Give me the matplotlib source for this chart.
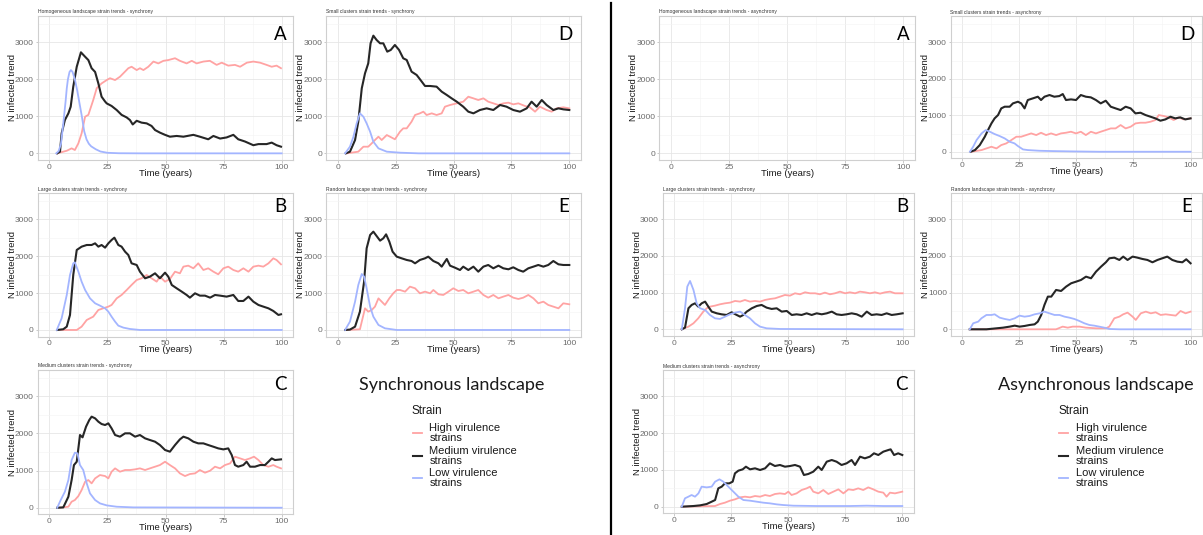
import matplotlib.pyplot as plt
from matplotlib.lines import Line2D

# (year, N infected); hi / med / lo virulence strains

# --- synchrony ---
sync_a_hi = [(3.4, 0), (7.5, 70), (9.6, 135), (11, 90), (12.5, 270), (13.9, 540), (15.4, 990), (16.8, 1040),
             (18.9, 1440), (20.4, 1760), (22.5, 1890), (24.7, 1980), (26.1, 2030), (28.3, 1980), (30.4, 2070),
             (32.6, 2210), (34, 2300), (35.4, 2340), (37.6, 2250), (39, 2300), (40.5, 2250), (42.6, 2340),
             (44.8, 2480), (46.9, 2430), (49.1, 2500), (51.2, 2520), (54.1, 2570), (56.2, 2500), (59.1, 2430),
             (61.3, 2500), (63.4, 2430), (66.3, 2480), (69.1, 2500), (72, 2390), (74.2, 2450), (77, 2370),
             (79.9, 2390), (82.1, 2340), (85, 2450), (87.8, 2480), (90.7, 2450), (93.5, 2390), (95.7, 2340),
             (97.8, 2370), (99.7, 2300)]
sync_a_med = [(3.4, 0), (4.6, 45), (5.3, 540), (6.7, 900), (8.2, 1080), (9.2, 1260), (10.3, 1800), (11.8, 2340),
              (13.6, 2730), (15.4, 2610), (16.8, 2520), (18.2, 2300), (19.7, 2200), (21.1, 1890), (22.5, 1530),
              (24, 1400), (24.7, 1350), (26.8, 1280), (29, 1170), (31.1, 1040), (33.3, 970), (34.7, 900),
              (35.9, 780), (37.6, 880), (39.7, 830), (41.9, 810), (44, 740), (45.5, 630), (47.6, 560),
              (49.8, 500), (51.9, 450), (54.8, 470), (57.7, 450), (62, 500), (64.8, 450), (68.4, 380),
              (70.6, 470), (73.5, 400), (76.3, 430), (79.2, 500), (81.3, 380), (84.2, 320), (87.8, 220),
              (90, 250), (93.5, 250), (95.7, 290), (97.8, 220), (99.7, 180)]
sync_a_lo = [(3, 0), (4, 60), (5, 250), (6, 800), (7, 1400), (7.5, 1750), (8, 2000), (8.7, 2200), (9.3, 2250),
             (10, 2200), (11, 2000), (12, 1700), (13, 1350), (14, 1000), (15, 600), (16, 380), (17, 260),
             (18, 190), (20, 110), (22, 50), (25, 15), (30, 3), (40, 0), (100, 0)]

sync_d_hi = [(3.9, 0), (8.9, 45), (11.1, 180), (13.2, 180), (14.7, 270), (16.1, 360), (17.6, 450), (19, 360),
             (21.2, 495), (22.6, 450), (24.7, 380), (26.9, 585), (28.3, 675), (29.8, 675), (31.9, 856),
             (33.4, 1036), (35.5, 1081), (37, 1126), (38.4, 1036), (40.6, 1081), (42.7, 1036), (44.9, 1081),
             (46.3, 1261), (48.5, 1306), (51.4, 1351), (54.2, 1396), (56.4, 1531), (58.6, 1486), (60.7, 1441),
             (62.9, 1486), (65, 1396), (67.2, 1351), (69.4, 1306), (71.5, 1351), (73.7, 1369), (75.8, 1324),
             (78, 1351), (80.9, 1279), (83, 1243), (85.2, 1126), (87.3, 1261), (90.2, 1171), (92.4, 1126),
             (94.5, 1216), (97.4, 1243), (100, 1216)]
sync_d_med = [(3.5, 0), (5.3, 45), (7.5, 360), (8.9, 856), (10.4, 1757), (11.8, 2162), (13.2, 2432), (14.2, 2973),
              (15.4, 3180), (16.8, 3063), (18.3, 2973), (19.7, 2973), (21.4, 2748), (22.9, 2793), (24.7, 2928),
              (26.5, 2793), (28.3, 2568), (29.8, 2522), (31.9, 2207), (34.1, 2117), (36.3, 1937), (37.7, 1820),
              (39.9, 1820), (42.7, 1802), (44.9, 1667), (47.1, 1577), (49.2, 1486), (51.4, 1396), (54.2, 1261),
              (56.4, 1126), (58.6, 1081), (61.4, 1171), (64.3, 1216), (67.2, 1171), (70.1, 1306), (72.9, 1261),
              (75.8, 1171), (78.7, 1126), (81.6, 1216), (83.7, 1396), (85.9, 1261), (88.1, 1441), (90.2, 1306),
              (93.1, 1171), (95.3, 1216), (97.4, 1189), (100, 1171)]
sync_d_lo = [(3.2, 0), (5.3, 180), (6.8, 450), (8.2, 810), (9.6, 1081), (11.1, 990), (12.5, 810), (14, 585),
             (15.4, 315), (17.6, 135), (21.2, 45), (26.9, 18), (35, 0), (100, 0)]

sync_b_hi = [(4.6, 0), (11.8, 0), (13.9, 90), (16.1, 271), (18.9, 361), (21.1, 542), (23.2, 587), (25.4, 633),
             (26.8, 678), (29, 858), (31.1, 949), (33.3, 1084), (35.4, 1220), (37.6, 1355), (39.7, 1401),
             (41.9, 1491), (44, 1401), (46.2, 1310), (47.6, 1446), (49.8, 1310), (51.9, 1382), (54.1, 1581),
             (56.2, 1536), (57.7, 1717), (59.8, 1744), (62, 1672), (64.1, 1807), (66.3, 1626), (68.4, 1672),
             (70.6, 1581), (72.7, 1509), (74.9, 1672), (77, 1717), (79.2, 1626), (81.3, 1581), (83.5, 1672),
             (85.7, 1581), (87.8, 1717), (90, 1744), (92.1, 1717), (94.3, 1807), (96.4, 1943), (97.8, 1897),
             (99.7, 1780)]
sync_b_med = [(3.4, 0), (6, 20), (7.5, 90), (8.9, 407), (10.3, 1491), (11.8, 2169), (13.9, 2259), (16.1, 2304),
              (18.2, 2304), (19.7, 2349), (21.1, 2259), (22.5, 2304), (24, 2232), (25.4, 2349), (26.8, 2440),
              (28, 2503), (29.7, 2304), (31.1, 2259), (32.6, 2123), (34, 2033), (35.4, 1807), (37.6, 1762),
              (39, 1581), (41.2, 1401), (43.3, 1446), (45.5, 1536), (47.6, 1401), (49.8, 1554), (51.2, 1446),
              (52.7, 1220), (54.8, 1130), (57, 1039), (59.1, 949), (60.5, 876), (62.7, 994), (64.8, 931),
              (67, 931), (69.2, 876), (71.3, 949), (73.5, 931), (76.3, 904), (79.2, 949), (81.3, 786),
              (83.5, 786), (85.7, 904), (87.8, 768), (90, 678), (92.1, 633), (94.3, 587), (96.4, 515),
              (98.6, 407), (99.7, 425)]
sync_b_lo = [(3.2, 0), (5.3, 316), (7.5, 949), (8.9, 1491), (10.3, 1807), (11, 1834), (12.5, 1581), (13.9, 1310),
             (15.4, 1084), (17.5, 858), (19.7, 723), (21.8, 660), (24, 587), (25.4, 497), (26.8, 361),
             (28.3, 226), (29.7, 117), (31.9, 63), (34.7, 27), (39, 0), (100, 0)]

sync_e_hi = [(3.9, 0), (9.6, 18), (11.1, 407), (11.8, 587), (13.2, 497), (14.7, 542), (16.1, 633), (17.6, 858),
             (19, 768), (20.4, 678), (22.3, 858), (24, 994), (25.5, 1084), (26.9, 1084), (29.1, 1039),
             (31.2, 1175), (33.4, 1130), (35.5, 994), (37.7, 1039), (39.9, 994), (41.3, 1084), (43.5, 967),
             (45.6, 949), (47.8, 1039), (49.9, 1130), (52.1, 1057), (54.2, 1084), (56.4, 994), (58.6, 1039),
             (60.7, 1084), (62.9, 949), (65, 876), (67.2, 949), (69.4, 858), (71.5, 904), (73.7, 949),
             (75.8, 876), (78, 840), (80.1, 876), (82.3, 949), (84.5, 858), (86.6, 723), (88.8, 768),
             (90.9, 678), (93.1, 633), (95.3, 587), (97.4, 723), (100, 696)]
sync_e_med = [(3.2, 0), (5.3, 10), (7.5, 90), (9.6, 497), (11.4, 1310), (12.5, 2214), (14, 2575), (15.4, 2666),
              (16.8, 2548), (18.3, 2422), (19.7, 2485), (20.9, 2593), (22.3, 2394), (23.7, 2123), (25.5, 1988),
              (27.6, 1943), (29.8, 1898), (31.9, 1870), (33.4, 1807), (35.5, 1898), (37.7, 1943), (39.1, 1988),
              (41.3, 1870), (43.5, 1807), (44.9, 1717), (47.1, 1925), (48.5, 1744), (50.6, 1690), (52.8, 1626),
              (54.2, 1717), (56.4, 1626), (58.6, 1717), (60.7, 1581), (62.9, 1717), (65, 1762), (67.2, 1672),
              (69.4, 1744), (71.5, 1672), (73.7, 1645), (75.8, 1699), (78, 1626), (80.1, 1581), (82.3, 1672),
              (84.5, 1717), (86.6, 1762), (88.8, 1717), (90.9, 1762), (93.1, 1870), (95.3, 1780), (97.4, 1762),
              (100, 1762)]
sync_e_lo = [(3.2, 0), (5.3, 226), (7.5, 768), (8.9, 1220), (10.4, 1518), (11.4, 1446), (12.5, 1130), (14, 633),
             (15.4, 361), (17.6, 136), (20.4, 45), (25.5, 0), (100, 0)]

sync_c_hi = [(4.6, 0), (8.2, 27), (9.6, 162), (11, 207), (12.5, 314), (13.9, 476), (15.4, 700), (16.8, 745),
             (18.2, 656), (19.7, 790), (21.8, 880), (24, 853), (25.4, 790), (26.8, 970), (28.3, 1060),
             (30.4, 970), (32.6, 1015), (34.7, 1015), (36.9, 1033), (39, 1060), (41.2, 1015), (43.3, 1060),
             (45.5, 1105), (47.6, 1149), (49.8, 1239), (51.9, 1149), (54.1, 1060), (56.2, 925), (58.4, 853),
             (60.5, 907), (62.7, 925), (64.8, 1015), (67, 943), (69.2, 997), (71.3, 1105), (73.5, 1060),
             (75.6, 1149), (77.8, 1194), (79.9, 1374), (82.1, 1329), (84.2, 1284), (86.4, 1329), (88.1, 1374),
             (90, 1284), (92.1, 1149), (94.3, 1105), (96.4, 1149), (97.8, 1105), (99.7, 1060)]
sync_c_med = [(3.4, 0), (6, 9), (8.2, 296), (9.6, 745), (10.6, 1149), (11.8, 1239), (13.2, 1958), (14.3, 1895),
              (15.8, 2182), (17.2, 2362), (18.2, 2452), (19.7, 2407), (21.1, 2317), (22.5, 2254), (24, 2227),
              (25.4, 2272), (26.8, 2137), (28.3, 1958), (30.4, 1913), (32.6, 2003), (34.7, 2003), (36.9, 1913),
              (39, 1958), (41.2, 1868), (43.3, 1823), (45.5, 1778), (47.6, 1688), (49.8, 1554), (51.9, 1509),
              (54.1, 1688), (56.2, 1841), (57.7, 1913), (59.8, 1868), (62, 1778), (64.1, 1733), (66.3, 1733),
              (68.4, 1688), (70.6, 1643), (72.7, 1598), (74.9, 1571), (77, 1598), (78.5, 1419), (79.9, 1149),
              (81.3, 1105), (83.5, 1149), (84.9, 1239), (86.4, 1105), (88.5, 1105), (90.7, 1149), (92.8, 1149),
              (94.3, 1239), (95.7, 1329), (97.1, 1284), (99.7, 1302)]
sync_c_lo = [(3.4, 0), (4.9, 207), (6.7, 431), (8.2, 745), (9.6, 1284), (11, 1482), (12.1, 1464), (13.2, 1149),
             (14.6, 1015), (16.1, 656), (17.5, 386), (19.7, 207), (21.8, 117), (24.7, 63), (29, 27), (36.2, 9),
             (100, 0)]

# --- asynchrony (homogeneous landscape A has no curves) ---
async_d_hi = [(4.2, 0), (8.6, 46), (10.7, 91), (12.9, 137), (15.1, 91), (17.2, 183), (19.4, 229), (21.6, 320),
              (23.8, 412), (25.9, 412), (28.1, 457), (30.3, 503), (32.5, 457), (34.6, 521), (36.8, 457),
              (39, 503), (41.2, 457), (43.3, 503), (45.5, 521), (47.7, 549), (49.9, 503), (52, 549), (54.2, 457),
              (56.4, 549), (58.6, 503), (60.7, 549), (62.9, 594), (65.1, 640), (67.2, 640), (69.4, 732),
              (71.6, 640), (73.8, 686), (75.9, 777), (78.1, 796), (80.3, 796), (82.5, 823), (84.6, 869),
              (86.1, 1006), (88.3, 979), (90.4, 942), (92.6, 869), (94.8, 942), (96.9, 887), (100, 915)]
async_d_med = [(3.8, 0), (5.7, 46), (7.8, 183), (10, 412), (11.4, 594), (12.9, 777), (14.3, 915), (15.8, 1006),
               (17.2, 1189), (18.7, 1235), (20.9, 1235), (22.3, 1326), (24.5, 1372), (25.9, 1326), (27.4, 1189),
               (28.8, 1418), (31, 1463), (33.2, 1509), (34.6, 1418), (36.1, 1509), (38.3, 1555), (40.4, 1509),
               (42.6, 1527), (44.1, 1582), (45.5, 1418), (47.7, 1436), (49.9, 1418), (52, 1555), (54.2, 1509),
               (56.4, 1491), (58.6, 1418), (60.7, 1326), (62.9, 1399), (65.1, 1235), (67.2, 1189), (69.4, 1143),
               (71.6, 1235), (73.8, 1189), (75.9, 1052), (78.1, 1070), (80.3, 1006), (82.5, 960), (84.6, 915),
               (86.8, 851), (89, 887), (91.2, 960), (93.3, 915), (95.5, 942), (97.7, 887), (100, 915)]
async_d_lo = [(3.5, 0), (4.9, 137), (6.4, 320), (8.6, 503), (10.4, 594), (12.2, 549), (14.3, 485), (16.5, 430),
              (18.7, 366), (20.9, 274), (23, 229), (24.5, 155), (26.7, 64), (28.8, 46), (33.9, 27), (39.7, 18),
              (48.4, 9), (60, 0), (100, 0)]

async_b_hi = [(3.4, 0), (6.3, 73), (8.5, 164), (10.6, 300), (12.8, 482), (14.3, 573), (15.7, 618), (17.9, 645),
              (20.1, 682), (22.3, 709), (24.5, 727), (26.7, 773), (28.9, 755), (31, 800), (33.2, 755),
              (35.4, 773), (37.6, 755), (39.8, 800), (42, 827), (44.2, 845), (46.4, 891), (48.5, 936),
              (50.7, 918), (52.9, 982), (55.1, 955), (57.3, 1009), (59.5, 982), (61.7, 982), (63.8, 955),
              (66, 1000), (68.2, 955), (70.4, 982), (72.6, 1027), (74.8, 982), (76.9, 1009), (79.2, 982),
              (81.3, 1027), (83.5, 1009), (85.7, 982), (87.9, 1009), (90.1, 973), (92.3, 1009), (94.5, 1027),
              (96.6, 982), (100, 982)]
async_b_med = [(3.4, 0), (4.8, 45), (6.3, 573), (7.7, 664), (9.2, 709), (10.6, 618), (12.1, 709), (13.6, 755),
               (15, 618), (16.5, 482), (18.7, 436), (20.8, 409), (23, 391), (25.2, 464), (27.4, 391), (28.9, 345),
               (30.3, 391), (31.8, 482), (34, 573), (36.2, 636), (38.3, 664), (40.5, 591), (42.7, 555),
               (44.9, 573), (47.1, 482), (49.3, 500), (51.5, 391), (53.6, 409), (55.8, 391), (58, 436),
               (60.2, 391), (62.4, 436), (64.6, 409), (66.8, 436), (69, 482), (71.1, 409), (73.3, 391),
               (75.5, 409), (77.7, 436), (79.9, 409), (82.1, 345), (84.3, 482), (86.4, 391), (88.6, 409),
               (90.8, 391), (93, 436), (95.2, 391), (97.4, 409), (100, 436)]
async_b_lo = [(3.4, 0), (4.8, 573), (5.8, 1164), (7, 1318), (8.5, 1073), (9.9, 709), (11.4, 573), (13.6, 527),
              (15.7, 391), (17.9, 300), (20.1, 282), (22.3, 345), (24.5, 409), (26.7, 455), (28.9, 482),
              (31, 391), (33.2, 300), (35.4, 164), (37.6, 73), (40.5, 27), (46.4, 9), (100, 0)]

async_e_hi = [(3.3, 0), (41.1, 0), (44, 73), (46.2, 45), (48.4, 73), (51.3, 73), (54.2, 45), (58.6, 27),
              (62.9, 27), (64.4, 73), (66.6, 300), (68.8, 345), (70.5, 409), (72.4, 455), (74.6, 345),
              (76, 255), (78.2, 436), (80.4, 482), (82.6, 436), (84.7, 464), (86.9, 391), (89.1, 409),
              (91.3, 391), (93.5, 373), (95.6, 500), (97.8, 436), (100, 482)]
async_e_med = [(3.3, 0), (10.6, 0), (15, 27), (17.9, 45), (20.8, 73), (23, 100), (25.1, 73), (27.3, 91),
               (29.5, 118), (31.7, 136), (33.1, 209), (34.6, 391), (36, 664), (37.5, 891), (39, 891),
               (41.1, 1073), (43.3, 1045), (45.5, 1164), (47.7, 1255), (49.9, 1300), (52, 1345), (54.2, 1436),
               (56.4, 1391), (58.6, 1573), (60.8, 1709), (62.9, 1827), (64.4, 1936), (66.6, 1954), (68.8, 1891),
               (70.5, 1982), (72.4, 1891), (74.6, 1982), (76.7, 1954), (78.9, 1918), (81.1, 1891), (83.3, 1827),
               (85.5, 1891), (87.6, 1936), (89.8, 1982), (92, 1891), (94.2, 1845), (96.4, 1827), (98.1, 1909),
               (100, 1800)]
async_e_lo = [(3.3, 0), (4.8, 164), (7, 209), (8.4, 300), (10.6, 391), (12.8, 391), (14.2, 409), (16.4, 318),
              (18.6, 282), (20.8, 255), (23, 300), (25.1, 373), (27.3, 345), (29.5, 364), (31.7, 409),
              (33.9, 436), (36, 482), (38.2, 436), (40.4, 391), (42.6, 391), (44.8, 345), (46.9, 318),
              (49.1, 282), (51.3, 227), (53.5, 164), (55.7, 118), (57.8, 100), (60, 73), (62.2, 45), (64.4, 9),
              (68.8, 0), (100, 0)]

async_c_hi = [(3.4, 0), (18, 18), (20.1, 72), (22.3, 109), (24.5, 163), (26.7, 199), (28.9, 254), (31.1, 272),
              (33.3, 254), (35.5, 290), (37.7, 272), (39.9, 317), (42, 290), (44.2, 344), (46.4, 362),
              (48.6, 344), (50.1, 408), (51.5, 317), (53.7, 362), (55.9, 453), (58.1, 498), (59.6, 544),
              (61, 408), (63.2, 362), (65.4, 453), (67.6, 344), (69.8, 408), (72, 471), (74.2, 362), (76.4, 471),
              (78.5, 453), (80.7, 498), (82.9, 453), (85.1, 525), (87.3, 471), (89.5, 408), (91.7, 381),
              (93.1, 272), (94.6, 381), (96.8, 362), (100, 408)]
async_c_med = [(3.4, 0), (8.5, 18), (11.4, 36), (14.3, 72), (16.5, 136), (18, 181), (19.4, 498), (20.9, 544),
               (22.3, 634), (24.2, 634), (25.7, 680), (26.7, 906), (28.2, 979), (30.1, 1015), (31.5, 1087),
               (33.3, 1015), (35.5, 1042), (37.7, 997), (39.9, 1042), (42, 1178), (44.2, 1105), (46.4, 1133),
               (48.6, 1087), (50.8, 1105), (53, 1133), (55.2, 1087), (56.9, 861), (58.8, 888), (61, 951),
               (63.2, 1087), (64.7, 997), (66.9, 1223), (69.1, 1268), (71.2, 1223), (73.4, 1133), (75.6, 1178),
               (77.8, 1268), (79.3, 1133), (81.5, 1359), (83.6, 1314), (85.8, 1359), (87.6, 1450), (89.5, 1404),
               (91.7, 1495), (93.9, 1540), (94.9, 1558), (96.4, 1404), (98.2, 1450), (100, 1404)]
async_c_lo = [(3.4, 0), (4.8, 227), (6.3, 272), (7.7, 317), (9.2, 272), (10.7, 362), (12.1, 544), (14.3, 525),
              (16.5, 544), (18, 680), (19.9, 743), (21.6, 680), (23.8, 544), (26, 408), (28.2, 272), (30.4, 181),
              (33.3, 163), (36.2, 136), (39.1, 109), (42, 91), (45, 63), (47.9, 45), (52.3, 27), (62.5, 18),
              (77.1, 18), (84.4, 27), (91.7, 18), (100, 18)]

strain_labels = ['High virulence\nstrains', 'Medium virulence\nstrains', 'Low virulence\nstrains']
strain_colors = ['#ffa3a3', '#262626', '#a3b5ff']

W, H = 1203, 535
XLIM = (-5, 105)
YLIM = (-177, 3711)

plt.rcParams['font.family'] = ['Liberation Sans', 'DejaVu Sans']
fig = plt.figure(figsize=(W / 100, H / 100), dpi=100)


def panel(box, title, letter, letter_x, letter_y, curves):
    left, top, right, bottom = box
    ax = fig.add_axes([left / W, 1 - bottom / H, (right - left) / W, (bottom - top) / H])
    ax.set_xlim(XLIM)
    ax.set_ylim(YLIM)
    ax.set_xticks([0, 25, 50, 75, 100])
    ax.set_yticks([0, 1000, 2000, 3000])
    ax.set_xticks([12.5, 37.5, 62.5, 87.5], minor=True)
    ax.set_yticks([500, 1500, 2500, 3500], minor=True)
    ax.grid(True, which='major', color='#e6e6e6', lw=0.6)
    ax.grid(True, which='minor', color='#f3f3f3', lw=0.4)
    ax.set_axisbelow(True)
    ax.tick_params(which='major', length=1.8, width=0.5, color='#b3b3b3', labelsize=6,
                   labelcolor='#6b6b6b', pad=1)
    ax.tick_params(which='minor', length=0)
    for s in ax.spines.values():
        s.set_color('#cfcfcf')
        s.set_linewidth(0.8)
    for pts, col in zip(curves, strain_colors):
        ax.plot([p[0] for p in pts], [p[1] for p in pts], color=col,
                lw=1.5 if col == strain_colors[1] else 1.3, solid_joinstyle='round')
    fig.text(left / W, 1 - (top - 1.5) / H, title, fontsize=3.6, color='#333333', ha='left', va='bottom')
    fig.text((left - 25.4) / W, 1 - (top + bottom) / 2 / H, 'N infected trend', rotation=90,
             fontsize=6.8, ha='center', va='center', color='#1a1a1a')
    fig.text((left + right) / 2 / W, 1 - (bottom + 13.4) / H, 'Time (years)', fontsize=6.8,
             ha='center', va='center', color='#1a1a1a')
    fig.text(letter_x / W, 1 - letter_y / H, letter, fontsize=13.5, family='Lato',
             ha='right', va='center', color='black')
    return ax


panel((37.7, 16.0, 293.3, 159.9), 'Homogeneous landscape strain trends - synchrony', 'A', 287, 34,
      [sync_a_hi, sync_a_med, sync_a_lo])
panel((326.1, 16.0, 580.9, 159.9), 'Small clusters strain trends - synchrony', 'D', 573, 34,
      [sync_d_hi, sync_d_med, sync_d_lo])
panel((37.7, 193.1, 293.3, 336.5), 'Large clusters strain trends - synchrony', 'B', 286.5, 206,
      [sync_b_hi, sync_b_med, sync_b_lo])
panel((326.1, 193.1, 580.9, 336.5), 'Random landscape strain trends - synchrony', 'E', 569.5, 206,
      [sync_e_hi, sync_e_med, sync_e_lo])
panel((37.7, 369.9, 293.3, 514.3), 'Medium clusters strain trends - synchrony', 'C', 286.5, 385,
      [sync_c_hi, sync_c_med, sync_c_lo])

panel((659.4, 16.0, 914.9, 159.9), 'Homogeneous landscape strain trends - asynchrony', 'A', 909.5, 34,
      [[], [], []])
panel((950.5, 16.4, 1202, 158.2), 'Small clusters strain trends - asynchrony', 'D', 1195, 34,
      [async_d_hi, async_d_med, async_d_lo])
panel((662.6, 193.2, 914.1, 335.8), 'Large clusters strain trends - asynchrony', 'B', 908.5, 206,
      [async_b_hi, async_b_med, async_b_lo])
panel((950.8, 193.2, 1202, 335.8), 'Random landscape strain trends - asynchrony', 'E', 1192.5, 206,
      [async_e_hi, async_e_med, async_e_lo])
panel((662.6, 370.1, 913.7, 513.2), 'Medium clusters strain trends - asynchrony', 'C', 908, 385,
      [async_c_hi, async_c_med, async_c_lo])


def landscape_legend(heading, cx, key_x, text_x):
    fig.text(cx / W, 1 - 385 / H, heading, fontsize=13, family='Lato', ha='center', va='center', color='#1a1a1a')
    fig.text(key_x / W, 1 - 411 / H, 'Strain', fontsize=8.5, ha='left', va='center', color='#1a1a1a')
    for i, (lab, col) in enumerate(zip(strain_labels, strain_colors)):
        ky = 433.3 + i * 22.5
        fig.add_artist(Line2D([(key_x + 1) / W, (key_x + 10) / W], [1 - ky / H, 1 - ky / H],
                              color=col, lw=1.3 if i != 1 else 1.5))
        fig.text(text_x / W, 1 - ky / H, lab, fontsize=8, ha='left', va='center',
                 linespacing=1.0, color='#1a1a1a')


landscape_legend('Synchronous landscape', 452, 411.7, 429.3)
landscape_legend('Asynchronous landscape', 1096, 1058.3, 1076)

# divider between the two halves
fig.add_artist(Line2D([611 / W, 611 / W], [0.0, 0.995], color='black', lw=1.6))

fig.savefig('out.png', dpi=100)
